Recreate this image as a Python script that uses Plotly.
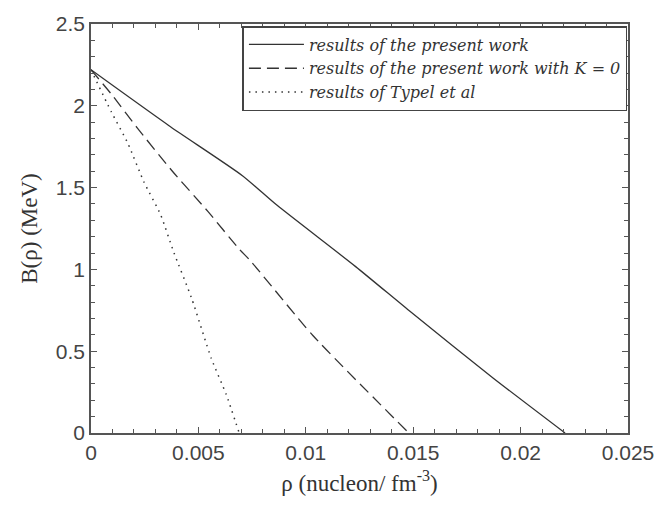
import plotly.graph_objects as go

# Data
rho_solid = [0, 0.0037, 0.00705, 0.00865, 0.01232, 0.01492, 0.01873, 0.02207]
B_solid = [2.22, 1.872, 1.573, 1.393, 1.017, 0.736, 0.335, 0.0]

rho_dashed = [0, 0.00095, 0.00217, 0.00377, 0.00545, 0.0069, 0.00742, 0.01033, 0.0148]
B_dashed = [2.22, 2.071, 1.862, 1.603, 1.353, 1.124, 1.053, 0.596, 0.0]

rho_dotted = [0, 0.00095, 0.00171, 0.00247, 0.00324, 0.00385, 0.00468, 0.0056, 0.00629, 0.0069]
B_dotted = [2.22, 1.962, 1.772, 1.533, 1.334, 1.106, 0.825, 0.456, 0.237, 0.0]

names = ["results of the present work",
         "results of the present work with K = 0",
         "results of Typel et al"]

x_tickvals = [0, 0.005, 0.01, 0.015, 0.02, 0.025]
x_ticktext = ["0", "0.005", "0.01", "0.015", "0.02", "0.025"]
y_tickvals = [0, 0.5, 1, 1.5, 2, 2.5]
y_ticktext = ["0", "0.5", "1", "1.5", "2", "2.5"]

LC = "#333333"
AX = "#555555"

fig = go.Figure()
fig.add_trace(go.Scatter(x=rho_solid, y=B_solid, mode="lines", name=names[0],
                         line=dict(color=LC, width=1.3, shape="spline", smoothing=0.6)))
fig.add_trace(go.Scatter(x=rho_dashed, y=B_dashed, mode="lines", name=names[1],
                         line=dict(color=LC, width=1.3, dash="12px,6px",
                                   shape="spline", smoothing=0.6)))
fig.add_trace(go.Scatter(x=rho_dotted, y=B_dotted, mode="lines", name=names[2],
                         line=dict(color=LC, width=1.5, dash="1.5px,5px",
                                   shape="spline", smoothing=0.6)))

axis_common = dict(
    showline=True, linecolor=AX, linewidth=1.5, mirror="allticks",
    ticks="inside", ticklen=6, tickwidth=1.2, tickcolor=AX,
    showgrid=False, zeroline=False,
    tickfont=dict(family="Liberation Sans", size=21, color="#444444"),
)

fig.update_xaxes(range=[0, 0.025], tickvals=x_tickvals, ticktext=x_ticktext,
                 minor=dict(dtick=0.001, ticks="inside", ticklen=4, tickcolor=AX, tickwidth=1),
                 title=dict(text="ρ (nucleon/ fm<sup>-3</sup>)",
                            font=dict(family="Liberation Serif", size=23, color="#333333"),
                            standoff=12),
                 **axis_common)
fig.update_yaxes(range=[0, 2.5], tickvals=y_tickvals, ticktext=y_ticktext,
                 minor=dict(dtick=0.1, ticks="inside", ticklen=4, tickcolor=AX, tickwidth=1),
                 title=dict(text="B(ρ) (MeV)",
                            font=dict(family="Liberation Serif", size=23, color="#333333"),
                            standoff=12),
                 **axis_common)

fig.update_layout(
    width=666, height=512,
    margin=dict(l=91, r=29, t=15, b=79),
    paper_bgcolor="white", plot_bgcolor="white",
    showlegend=True,
    legend=dict(x=0.282, y=0.995, xanchor="left", yanchor="top",
                bgcolor="white", bordercolor="#444444", borderwidth=1.5,
                itemwidth=55, tracegroupgap=0,
                font=dict(family="DejaVu Serif", size=16, color="#333333", style="italic")),
)

fig.write_html("out.html")
